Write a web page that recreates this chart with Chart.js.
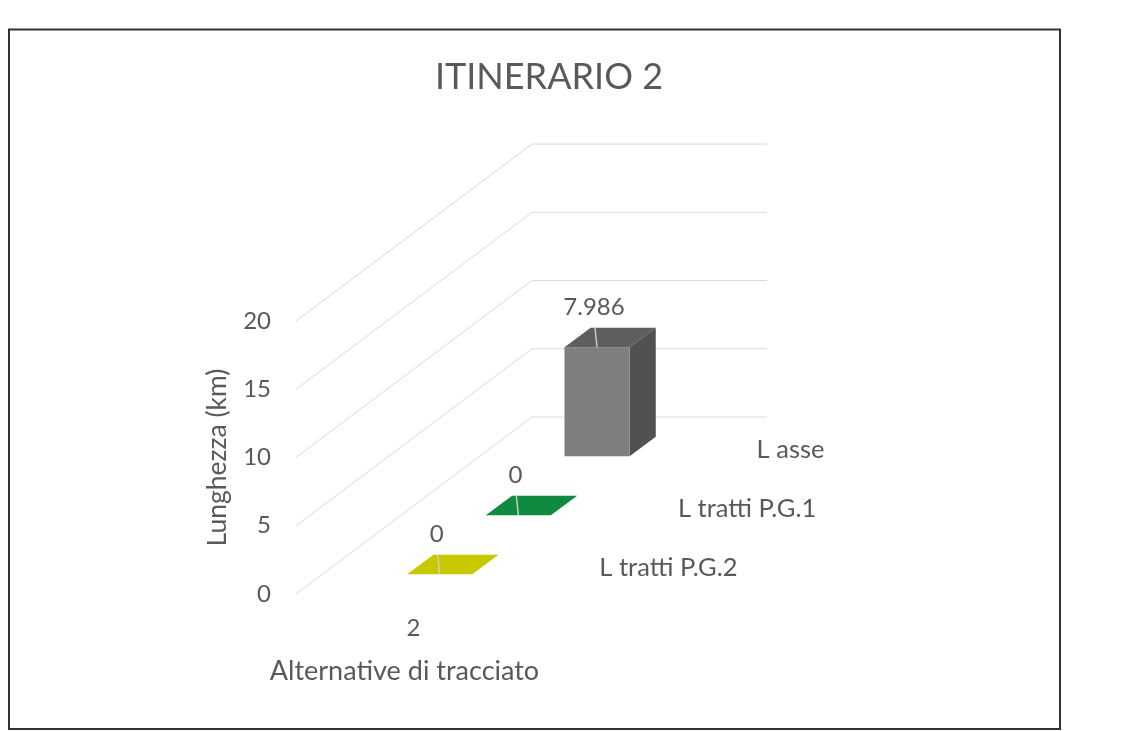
<!DOCTYPE html>
<html><head><meta charset="utf-8">
<script src="https://cdn.jsdelivr.net/npm/chart.js@4.4.1/dist/chart.umd.min.js"></script>
<style>html,body{margin:0;padding:0;background:#fff;}#wrap{width:1125px;height:731px;position:relative;}canvas{display:block;}</style>
</head><body><div id="wrap"><canvas id="c" width="1125" height="731"></canvas></div>
<script>
// ---- data ----
const categories = ['2'];
const seriesNames = ['L asse', 'L tratti P.G.1', 'L tratti P.G.2'];
const seriesLAsse = [7.986];
const seriesPG1 = [0];
const seriesPG2 = [0];
const labelsLAsse = ['7.986'];
const labelsPG1 = ['0'];
const labelsPG2 = ['0'];
const yTicks = [0, 5, 10, 15, 20];
const chartTitle = 'ITINERARIO 2';
const xTitle = 'Alternative di tracciato';
const yTitle = 'Lunghezza (km)';

// ---- styles ----
const FONT = 'Lato, "Open Sans", sans-serif';
const TEXT = '#595959';
const GRID = '#d9d9d9';
const DEPTH_X_RATIO = 1.004;   // depth x-extent relative to floor width
const DEPTH_SLOPE = 0.75;      // dy/dx of depth direction
const BAR_FRAC = 0.277;        // bar width / category width
const faces = [
  {front:'#7f7f7f', top:'#5e5e5e', side:'#515151'},
  {front:'#0f8a40', top:'#0f8a40', side:'#0b6e33'},
  {front:'#c8c800', top:'#c8c800', side:'#a3a300'}
];

const threeD = {
  id: 'threeD',
  beforeDraw(chart){
    const ctx = chart.ctx;
    ctx.save(); ctx.fillStyle = '#fff'; ctx.fillRect(0,0,chart.width,chart.height); ctx.restore();
  },
  beforeDatasetsDraw(chart){
    const ctx = chart.ctx, xs = chart.scales.x, ys = chart.scales.y, ca = chart.chartArea;
    const W = ca.right - ca.left;
    const DX = W * DEPTH_X_RATIO, DY = DX * DEPTH_SLOPE;
    ctx.save();
    ctx.strokeStyle = GRID; ctx.lineWidth = 1;
    ys.ticks.forEach(t => {
      const y = ys.getPixelForValue(t.value);
      ctx.beginPath();
      ctx.moveTo(ca.left, y);
      ctx.lineTo(ca.left + DX, y - DY);
      ctx.lineTo(ca.right + DX, y - DY);
      ctx.stroke();
    });
    const ds = chart.data.datasets, n = ds.length;
    const sX = DX / n, sY = DY / n;
    const catW = W / categories.length;
    const slots = ds.map((d, i) => n - 1 - i);
    const order = ds.map((d, i) => i).sort((a, b) => slots[b] - slots[a]);
    const poly = (pts, col) => { ctx.beginPath(); ctx.moveTo(pts[0][0], pts[0][1]); pts.slice(1).forEach(p => ctx.lineTo(p[0], p[1])); ctx.closePath(); ctx.fillStyle = col; ctx.fill(); };
    order.forEach(i => {
      const slot = slots[i];
      const z0 = slot + 1/3, z1 = slot + 2/3;
      const ox0 = z0 * sX, oy0 = z0 * sY, ox1 = z1 * sX, oy1 = z1 * sY;
      const f = faces[i];
      ds[i].data.forEach((v, j) => {
        const cx = xs.getPixelForValue(j);
        const x0 = cx - catW * BAR_FRAC / 2, x1 = cx + catW * BAR_FRAC / 2;
        const yb = ys.getPixelForValue(0), yt = ys.getPixelForValue(v);
        if (v > 0) {
          poly([[x1+ox0, yb-oy0],[x1+ox0, yt-oy0],[x1+ox1, yt-oy1],[x1+ox1, yb-oy1]], f.side);
          poly([[x0+ox0, yb-oy0],[x1+ox0, yb-oy0],[x1+ox0, yt-oy0],[x0+ox0, yt-oy0]], f.front);
        }
        poly([[x0+ox0, yt-oy0],[x1+ox0, yt-oy0],[x1+ox1, yt-oy1],[x0+ox1, yt-oy1]], f.top);
        const fcx = (x0 + x1) / 2 + ox0;
        ctx.strokeStyle = 'rgba(210,210,210,0.9)'; ctx.lineWidth = 1.5;
        ctx.beginPath(); ctx.moveTo(fcx - 2, yt - oy1); ctx.lineTo(fcx, yt - oy0); ctx.stroke();
        ctx.fillStyle = TEXT; ctx.font = '24px ' + FONT; ctx.textAlign = 'center'; ctx.textBaseline = 'middle';
        ctx.fillText(ds[i].valueLabels[j], fcx - 3, yt - oy0 - 40);
      });
      ctx.fillStyle = TEXT; ctx.font = '25.5px ' + FONT; ctx.textAlign = 'left'; ctx.textBaseline = 'middle';
      ctx.fillText(ds[i].label, ca.right + (slot + 0.5) * sX + 29, ys.getPixelForValue(0) - (slot + 0.5) * sY + 3);
    });
    // category-axis title (drawn without width compression)
    ctx.fillStyle = TEXT; ctx.font = '27px ' + FONT; ctx.textAlign = 'center'; ctx.textBaseline = 'middle';
    ctx.fillText(xTitle, (ca.left + ca.right) / 2 - 9, ys.getPixelForValue(0) + 77);
    ctx.restore();
    return false;
  },
  afterDraw(chart){
    const ctx = chart.ctx;
    ctx.save(); ctx.strokeStyle = '#333'; ctx.lineWidth = 2;
    ctx.strokeRect(9, 29.5, 1051, 699.5); ctx.restore();
  }
};

new Chart(document.getElementById('c'), {
  type: 'bar',
  plugins: [threeD],
  data: {
    labels: categories,
    datasets: [
      {label: seriesNames[0], data: seriesLAsse, valueLabels: labelsLAsse, yAxisID: 'y', backgroundColor: faces[0].front},
      {label: seriesNames[1], data: seriesPG1, valueLabels: labelsPG1, yAxisID: 'y', backgroundColor: faces[1].front},
      {label: seriesNames[2], data: seriesPG2, valueLabels: labelsPG2, yAxisID: 'y', backgroundColor: faces[2].front}
    ]
  },
  options: {
    responsive: false, animation: false, devicePixelRatio: 1,
    layout: {padding: {left: 0, right: 27, top: 0, bottom: 0}},
    plugins: {
      legend: {display: false}, tooltip: {enabled: false},
      title: {display: true, text: chartTitle, color: TEXT, font: {family: FONT, size: 36, weight: 'normal'}, padding: {top: 55.4, bottom: 222.4}}
    },
    scales: {
      x: {
        type: 'category', offset: true,
        grid: {display: false, drawTicks: false}, border: {display: false},
        ticks: {color: TEXT, font: {family: FONT, size: 24}, padding: 20},
        title: {display: false},
        afterFit(s){ s.height = 137; }
      },
      y: {
        type: 'linear', position: 'left', min: 0, max: 20,
        afterBuildTicks(s){ s.ticks = yTicks.map(v => ({value: v})); },
        grid: {display: false, drawTicks: false}, border: {display: false},
        ticks: {color: TEXT, font: {family: FONT, size: 24}, padding: 25},
        title: {display: true, text: yTitle, color: TEXT, font: {family: FONT, size: 26.5}, padding: {top: 202, bottom: 0}},
        afterFit(s){ s.width = 296; }
      },
      yR: {
        type: 'linear', position: 'right', min: 0, max: 1, display: true,
        grid: {display: false, drawTicks: false}, border: {display: false},
        ticks: {display: false},
        afterFit(s){ s.width = 567; }
      }
    }
  }
});
</script>
</body></html>
